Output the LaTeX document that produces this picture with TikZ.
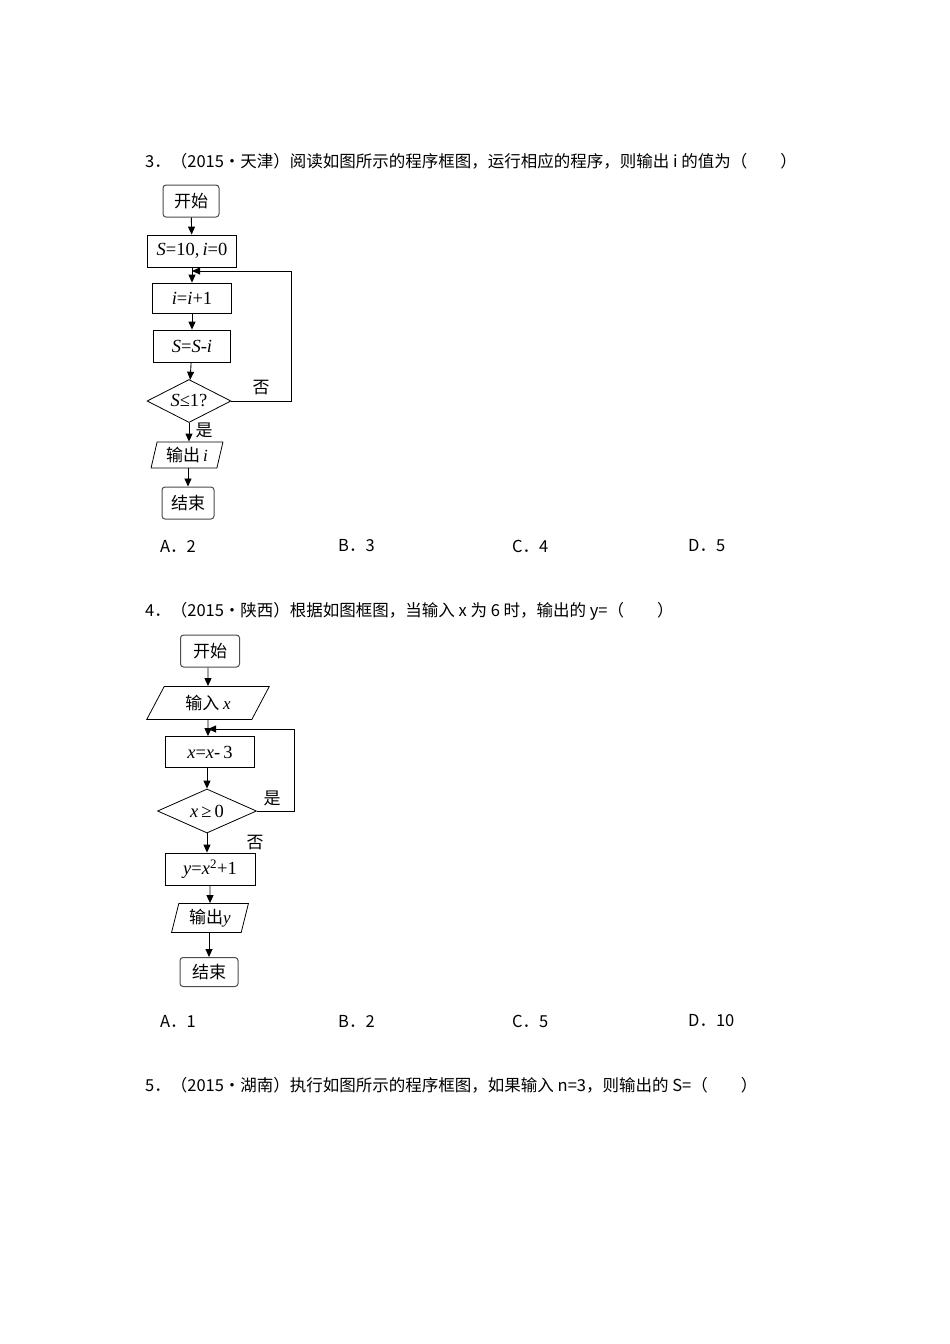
\documentclass[tikz,border=0pt]{standalone}
\usepackage{fontspec}
\setmainfont{Liberation Serif}
\newfontfamily\cjk{Noto Sans CJK SC}
\usetikzlibrary{shapes.geometric,arrows.meta}
\begin{document}
\begin{tikzpicture}[x=1pt,y=-1pt,
  every node/.style={font=\fontsize{18.5}{20}\selectfont},
  txt/.style={anchor=west,inner sep=0,font=\cjk\fontsize{16.5}{18}\selectfont},
  term/.style={draw=black!70,line width=1pt,rounded corners=3pt,inner sep=0,font=\cjk\fontsize{17}{19}\selectfont},
  proc/.style={draw,line width=0.8pt,inner sep=0},
  io/.style={trapezium,trapezium left angle=75,trapezium right angle=105,draw,line width=0.8pt,inner sep=0,trapezium stretches=true},
  dec/.style={diamond,draw,line width=0.8pt,inner sep=0,aspect=2},
  arr/.style={-{Triangle[length=8pt,width=7pt]},line width=0.9pt},
  lab/.style={font=\cjk\fontsize{17}{19}\selectfont,inner sep=0}]
\useasboundingbox (0,0) rectangle (950,1344);
\fill[white] (0,0) rectangle (950,1344);
% problem 3
\node[txt] (q3) at (145,161) {3．（2015•天津）阅读如图所示的程序框图，运行相应的程序，则输出 i 的值为（　　）};
\node[term,minimum width=56,minimum height=32] (s1) at (191,201) {开始};
\node[proc,minimum width=89,minimum height=32] (a1) at (192,251) {\textit{S}=10,\,\textit{i}=0};
\node[proc,minimum width=79,minimum height=30] (b1) at (192,298) {\textit{i}=\textit{i}+1};
\node[proc,minimum width=77,minimum height=32] (c1) at (192,346) {\textit{S}=\textit{S}-\textit{i}};
\node[dec,minimum width=84,minimum height=43] (d1) at (189,401) {\textit{S}≤1?};
\node[io,minimum width=72,minimum height=26] (o1) at (187,455) {\cjk\fontsize{17}{19}\selectfont 输出\,\rmfamily\textit{i}};
\node[term,minimum width=52,minimum height=32] (e1) at (188,503) {结束};
\draw[arr] (s1) -- (a1);
\draw[arr] (a1) -- (b1);
\draw[arr] (b1) -- (c1);
\draw[arr] (c1) -- (d1);
\draw[arr] (d1.south) -- (d1.south |- o1.north);
\draw[arr] (o1.south -| e1.north) -- (e1);
\coordinate (j1) at (192,271);
\draw[arr] (d1.east) -- (291,401) -- (291,271) -- (j1);
\node[lab] (n1) at (261,388) {否};
\node[lab] (y1) at (204,430) {是};
\node[txt] (a3) at (160,546) {A．2};
\node[txt] (b3) at (338,546) {B．3};
\node[txt] (c3) at (512,546) {C．4};
\node[txt] (d3) at (688,546) {D．5};
% problem 4
\node[txt] (q4) at (145,611) {4．（2015•陕西）根据如图框图，当输入 x 为 6 时，输出的 y=（　　）};
\node[term,minimum width=59,minimum height=32] (s2) at (210,651) {开始};
\node[io,trapezium left angle=60,trapezium right angle=120,minimum width=123,minimum height=33] (i2) at (208,703) {\cjk\fontsize{17}{19}\selectfont 输入 \rmfamily\textit{x}};
\node[proc,minimum width=89,minimum height=31] (a2) at (210,752) {\textit{x}=\textit{x}-\,3};
\node[dec,minimum width=99,minimum height=44] (d2) at (207,811) {\textit{x}\,≥\,0};
\node[proc,minimum width=90,minimum height=32] (b2) at (210,869) {\textit{y}=\textit{x}\textsuperscript{2}+1};
\node[io,minimum width=77,minimum height=29] (o2) at (210,918) {\cjk\fontsize{17}{19}\selectfont 输出\rmfamily\textit{y}};
\node[term,minimum width=58,minimum height=29] (e2) at (209,972) {结束};
\draw[arr] (s2.south -| 208,0) -- (i2);
\draw[arr] (i2) -- (i2 |- a2.north);
\draw[arr] (a2.south -| d2.north) -- (d2);
\draw[arr] (d2.south) -- (d2.south |- b2.north);
\draw[arr] (b2.south -| o2.north) -- (o2);
\draw[arr] (o2.south -| e2.north) -- (e2);
\coordinate (j2) at (208,729);
\draw[arr] (d2.east) -- (294,811) -- (294,729) -- (j2);
\node[lab] (y2) at (272,798) {是};
\node[lab] (n2) at (255,843) {否};
\node[txt] (a4) at (160,1021) {A．1};
\node[txt] (b4) at (338,1021) {B．2};
\node[txt] (c4) at (512,1021) {C．5};
\node[txt] (d4) at (688,1021) {D．10};
% problem 5
\node[txt] (q5) at (145,1085) {5．（2015•湖南）执行如图所示的程序框图，如果输入 n=3，则输出的 S=（　　）};
\end{tikzpicture}
\end{document}
